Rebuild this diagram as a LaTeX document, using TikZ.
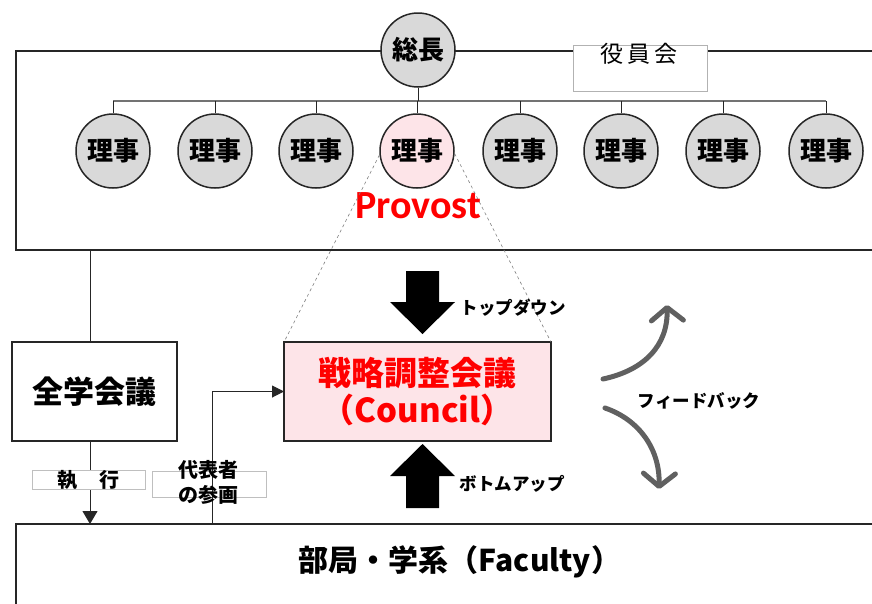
\documentclass[tikz,border=0pt]{standalone}
\usepackage{fontspec}
\newfontfamily\jp{Noto Sans CJK JP}
\newfontfamily\carl{Carlito}
\usetikzlibrary{arrows.meta}
\definecolor{pinkfill}{RGB}{253,228,232}
\definecolor{circgray}{RGB}{217,217,217}
\definecolor{fbgray}{RGB}{96,96,96}
\begin{document}
\begin{tikzpicture}[x=1pt,y=-1pt,
  bigbox/.style={draw=black!85, line width=2pt, inner sep=0pt, outer sep=0pt},
  person/.style={circle, draw=black!85, line width=1.5pt, fill=circgray, minimum size=74pt, inner sep=0pt, font=\jp\bfseries\fontsize{26}{26}\selectfont},
  labelbox/.style={draw=black!25, line width=0.8pt, fill=white, inner sep=0pt, outer sep=0pt},
  thinline/.style={line width=1pt, draw=black!85},
  kana/.style={font=\jp\bfseries\fontsize{17.5}{17.5}\selectfont},
  fbarrow/.style={line width=5pt, draw=fbgray, line cap=round, -{Straight Barb[round,length=13pt,width=32pt]}},
]
\clip (0,0) rectangle (872,603);
\fill[white] (0,0) rectangle (872,603);

% main boxes
\node[bigbox, anchor=north west, minimum width=900pt, minimum height=199pt] (board) at (16,51) {};
\node[bigbox, anchor=north west, minimum width=900pt, minimum height=120pt] (faculty) at (16,524) {};
\node[font=\jp\bfseries\fontsize{30}{30}\selectfont] (factext) at (460,562) {部局・学系（Faculty）};

% yakuinkai label
\node[labelbox, draw=black!30, minimum width=134pt, minimum height=46pt] (yakuin) at (640,68) {};
\node[font=\jp\fontsize{23}{23}\selectfont] (yakuintext) at (639,54) {役\,員\,会};

% president and directors
\node[person] (pres) at (418,50) {総長};
\node[person] (r1) at (113,151) {理事};
\node[person] (r2) at (215,151) {理事};
\node[person] (r3) at (316,151) {理事};
\node[person, fill=pinkfill] (r4) at (417,151) {理事};
\node[person] (r5) at (520,151) {理事};
\node[person] (r6) at (621,151) {理事};
\node[person] (r7) at (723,151) {理事};
\node[person] (r8) at (826,151) {理事};

\coordinate (bus) at (0,101);
\draw[line width=1.5pt, black!55] (r1.north |- bus) -- (r8.north |- bus);
\draw[thinline] (pres.south) -- (pres.south |- bus);
\foreach \i in {1,...,8} \draw[thinline] (r\i.north) -- (r\i.north |- bus);

\node[font=\carl\bfseries\fontsize{40}{40}\selectfont, text=red, anchor=base] (prov) at (418,218) {Provost};

% council
\node[bigbox, fill=pinkfill, minimum width=267pt, minimum height=99pt, align=center,
      font=\jp\bfseries\fontsize{33}{37}\selectfont, text=red] (council) at (417.5,391.5) {戦略調整会議\\（Council）};
\draw[dashed, black!50, line width=0.6pt] (r4.186) -- (council.north west);
\draw[dashed, black!50, line width=0.6pt] (r4.-4) -- (council.north east);

% block arrows
\fill[black] (406,271) -- (439,271) -- (439,302) -- (455,302) -- (422.5,334) -- (390,302) -- (406,302) -- cycle;
\fill[black] (406,508) -- (439,508) -- (439,476) -- (455,476) -- (422.5,444) -- (390,476) -- (406,476) -- cycle;
\node[kana] (topdown) at (513,308) {トップダウン};
\node[kana] (bottomup) at (512,484) {ボトムアップ};

% feedback
\coordinate (fb1s) at (603,379);
\coordinate (fb1e) at (667,305);
\coordinate (fb2s) at (605,408);
\coordinate (fb2e) at (659,489);
\draw[fbarrow] (fb1s) .. controls (645,370) and (668,345) .. (fb1e);
\draw[fbarrow] (fb2s) .. controls (640,420) and (660,450) .. (fb2e);
\node[kana] (feedback) at (699,401) {フィードバック};

% zengaku kaigi
\node[bigbox, minimum width=165pt, minimum height=99pt, font=\jp\bfseries\fontsize{31}{31}\selectfont] (zengaku) at (94.5,391.5) {全学会議};
\coordinate (zx) at (90,0);
\draw[thinline] (board.south -| zx) -- (zengaku.north -| zx);
\draw[thinline, -{Triangle[length=13pt,width=15pt]}] (zengaku.south -| zx) -- (faculty.north -| zx);
\node[labelbox, minimum width=113pt, minimum height=18pt, font=\jp\bfseries\fontsize{20}{20}\selectfont] (shikko) at (88.5,480) {執\hspace{22pt}行};

% representatives
\node[labelbox, minimum width=114pt, minimum height=26pt] (rep) at (209,484) {};
\coordinate (dx) at (212,0);
\draw[thinline, -{Triangle[length=12pt,width=12pt]}] (faculty.north -| dx) |- (council.west);
\node[font=\jp\bfseries\fontsize{20}{25}\selectfont, align=center] (reptext) at (208,482.5) {代表者\\の参画};
\end{tikzpicture}
\end{document}
